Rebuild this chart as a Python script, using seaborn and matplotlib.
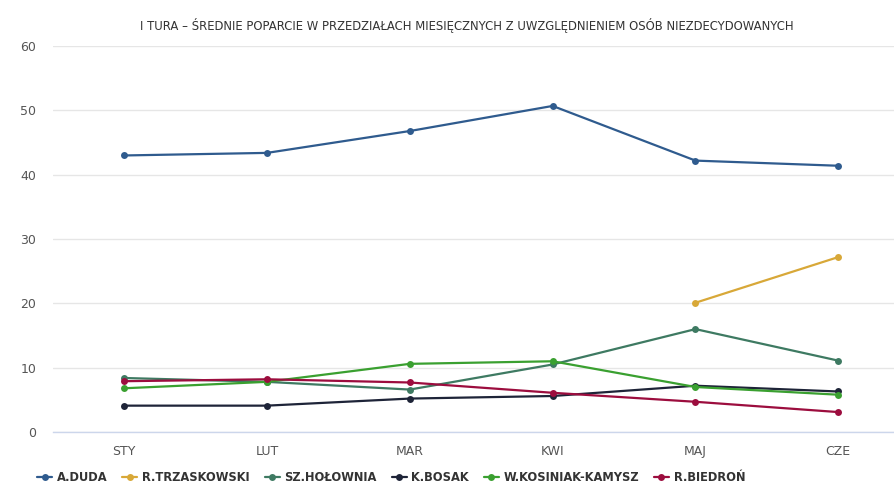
import numpy as np
import pandas as pd
import seaborn as sns
import matplotlib
matplotlib.use('Agg')
from matplotlib import pyplot as plt

# data
months = ['STY', 'LUT', 'MAR', 'KWI', 'MAJ', 'CZE']
candidates = ['A.DUDA', 'R.TRZASKOWSKI', 'SZ.HOŁOWNIA', 'K.BOSAK',
              'W.KOSINIAK-KAMYSZ', 'R.BIEDROŃ']
duda = [43.0, 43.4, 46.8, 50.7, 42.2, 41.4]
trzaskowski = [np.nan, np.nan, np.nan, np.nan, 20.1, 27.2]
holownia = [8.4, 7.8, 6.6, 10.5, 16.0, 11.1]
bosak = [4.1, 4.1, 5.2, 5.6, 7.2, 6.3]
kosiniak = [6.8, 7.8, 10.6, 11.0, 7.0, 5.8]
biedron = [7.9, 8.2, 7.7, 6.1, 4.7, 3.1]
colors = ['#2f5b8e', '#d8a838', '#3e7a62', '#1e2438', '#3aa030', '#9c0d3e']

series = [duda, trzaskowski, holownia, bosak, kosiniak, biedron]
df = pd.DataFrame({
    'month': months * len(candidates),
    'who': [c for c in candidates for _ in months],
    'value': [v for s in series for v in s],
}).dropna()

sns.set_theme(style='white')
plt.rcParams['font.family'] = ['DejaVu Sans']

fig = plt.figure(figsize=(8.94, 4.96), dpi=100)
ax = fig.add_axes([0.059, 0.129, 0.941, 0.778])

sns.lineplot(data=df, x='month', y='value', hue='who', hue_order=candidates,
             palette=colors, marker='o', markersize=5, markeredgewidth=0,
             linewidth=1.6, sort=False, ax=ax)

handles, labels = ax.get_legend_handles_labels()
ax.get_legend().remove()

ax.set_xlim(-0.5, 5.39)
ax.set_ylim(0, 60)
ax.set_yticks(range(0, 61, 10))
ax.yaxis.grid(True, color='#e6e6e6', linewidth=1)
ax.set_xlabel('')
ax.set_ylabel('')
for s in ['top', 'right', 'left']:
    ax.spines[s].set_visible(False)
ax.spines['bottom'].set_color('#ccd6eb')
ax.spines['bottom'].set_linewidth(1)
ax.tick_params(axis='both', length=0, labelsize=9, colors='#555555')
ax.tick_params(axis='x', pad=9)
ax.tick_params(axis='y', pad=12)

fig.text(0.522, 0.948, 'I TURA – ŚREDNIE POPARCIE W PRZEDZIAŁACH MIESIĘCZNYCH '
         'Z UWZGLĘDNIENIEM OSÓB NIEZDECYDOWANYCH',
         ha='center', va='center', fontsize=8.4, color='#333333')

leg = fig.legend(handles, labels, loc='center left', bbox_to_anchor=(0.03, 0.037),
                 ncol=6, frameon=False, fontsize=8.3, handlelength=1.3,
                 handletextpad=0.4, columnspacing=1.3)
for t in leg.get_texts():
    t.set_fontweight('bold')
    t.set_color('#333333')

fig.savefig('out.png', dpi=100)
